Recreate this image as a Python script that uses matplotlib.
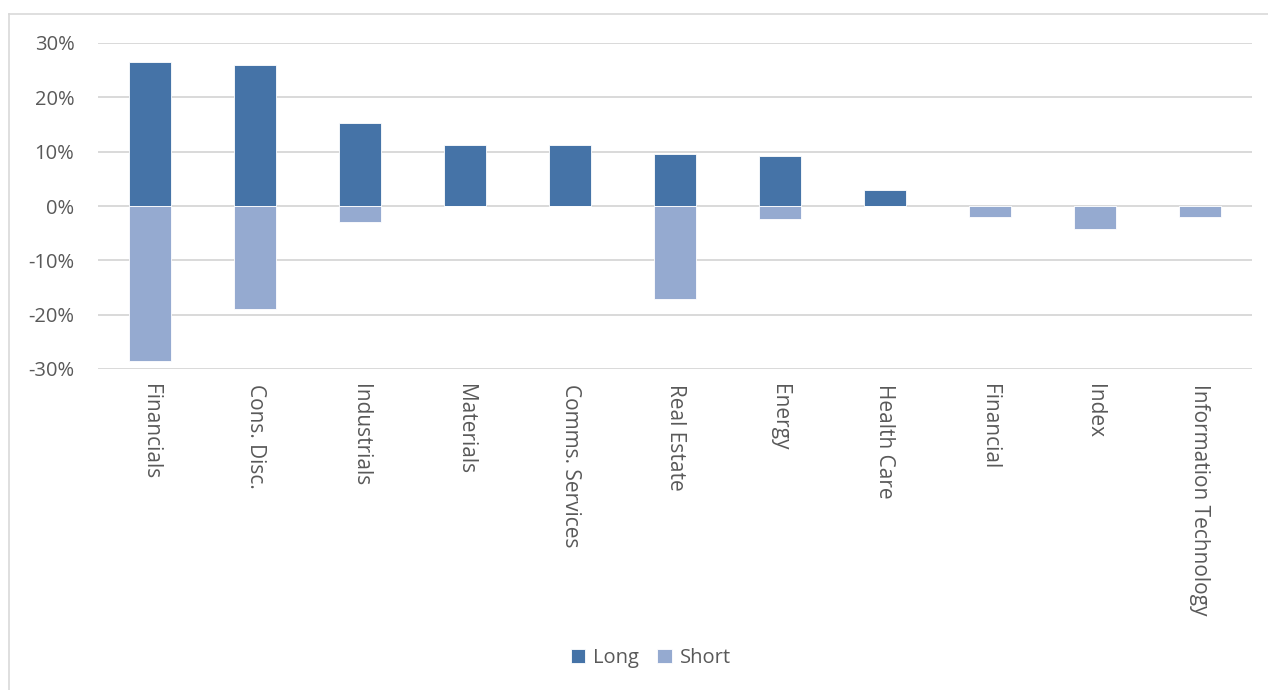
import matplotlib.pyplot as plt
import numpy as np
from matplotlib.ticker import FuncFormatter

categories = ["Financials", "Cons. Disc.", "Industrials", "Materials", "Comms. Services",
              "Real Estate", "Energy", "Health Care", "Financial", "Index",
              "Information Technology"]
long_pos = [26.5, 25.9, 15.3, 11.2, 11.2, 9.5, 9.2, 3.0, 0.0, 0.0, 0.0]
short_pos = [-28.5, -19.0, -2.9, 0.0, 0.0, -17.1, -2.4, 0.0, -2.1, -4.2, -2.1]

plt.rcParams['font.family'] = ['Open Sans', 'DejaVu Sans']
txt = '#595959'

fig = plt.figure(figsize=(12.68, 6.9), dpi=100)
ax = fig.add_axes([98 / 1268, 1 - 369 / 690, (1252 - 98) / 1268, (369 - 43) / 690])

x = np.arange(len(categories))
ax.bar(x, long_pos, width=0.4, color='#4573a7', edgecolor='white', linewidth=0.6, label='Long', zorder=3)
ax.bar(x, short_pos, width=0.4, color='#95aad0', edgecolor='white', linewidth=0.6, label='Short', zorder=3)

ax.set_xlim(-0.5, len(categories) - 0.5)
ax.set_ylim(-30, 30)
ax.set_yticks(range(-30, 31, 10))
ax.yaxis.set_major_formatter(FuncFormatter(lambda v, p: f"{int(v)}%"))
ax.grid(axis='y', color='#d9d9d9', linewidth=1.4, zorder=0)
for s in ax.spines.values():
    s.set_visible(False)
ax.tick_params(axis='both', length=0, colors=txt, labelsize=14.5)
ax.tick_params(axis='y', pad=17)
ax.set_xticks(x)
ax.set_xticklabels(categories, rotation=-90, va='top', ha='center')
ax.tick_params(axis='x', pad=11, labelsize=15)

leg = fig.legend(loc='center', bbox_to_anchor=(651 / 1268, 1 - 658 / 690), ncol=2, frameon=False,
                 fontsize=14.5, handlelength=0.7, handleheight=0.7, handletextpad=0.4, columnspacing=0.9)
for t in leg.get_texts():
    t.set_color(txt)

# outer chart frame
fig.add_artist(plt.Line2D([9 / 1268, 9 / 1268], [0, 1 - 14 / 690], color='#d9d9d9', lw=1.2))
fig.add_artist(plt.Line2D([9 / 1268, 1], [1 - 14 / 690, 1 - 14 / 690], color='#d9d9d9', lw=1.2))

fig.savefig('out.png', dpi=100)
